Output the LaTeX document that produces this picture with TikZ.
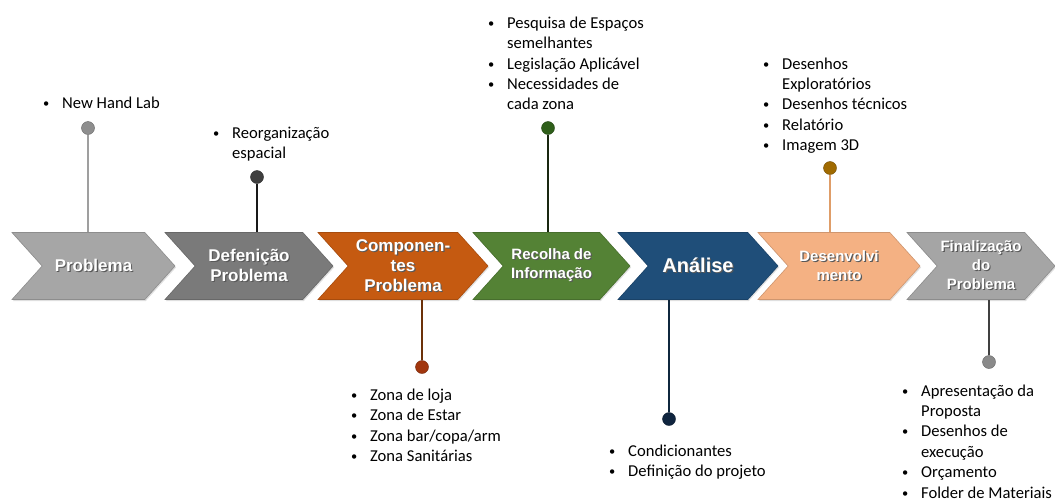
\documentclass[tikz,border=0pt]{standalone}
\usepackage{fontspec}
\usepackage{graphicx}
\setmainfont{Carlito}
\newfontfamily\chevfont{Liberation Sans}
\usetikzlibrary{shapes.symbols, positioning, calc, shadows}

\definecolor{cinza}{HTML}{A6A6A6}
\definecolor{cinzaesc}{HTML}{7A7A7A}
\definecolor{laranja}{HTML}{C55A11}
\definecolor{verde}{HTML}{548235}
\definecolor{azul}{HTML}{1F4E79}
\definecolor{salmao}{HTML}{F4B183}
\definecolor{cinzafim}{HTML}{A5A5A5}
% pontos
\definecolor{ponto1}{HTML}{8E8E8E}
\definecolor{ponto2}{HTML}{3F3F3F}
\definecolor{ponto3}{HTML}{A1360E}
\definecolor{ponto4}{HTML}{2F5F1A}
\definecolor{ponto5}{HTML}{10253F}
\definecolor{ponto6}{HTML}{A06A00}
\definecolor{ponto7}{HTML}{8A8A8A}

\newcommand{\lista}[1]{\begin{tabular}[t]{@{}l@{}l@{}}#1\end{tabular}}
\newcommand{\bl}{\makebox[19pt][l]{\raisebox{1pt}{\scalebox{0.75}{\textbullet}}}}
% texto com sombra
\newcommand{\sombra}[1]{\makebox[0pt][l]{\hspace{1.2pt}\raisebox{-1.2pt}{\color{black!65}#1}}#1}

\begin{document}
\begin{tikzpicture}[x=1pt, y=-1pt,
    chev/.style={signal, signal from=west, signal to=east, signal pointer angle=96,
      minimum height=67pt, inner sep=0pt, align=center, text=white,
      font=\chevfont\bfseries\fontsize{17}{20}\selectfont,
      fill=#1, draw=#1!85!black, line width=0.6pt,
      drop shadow={opacity=0.25, shadow xshift=1pt, shadow yshift=-1.5pt}},
    dot/.style={circle, inner sep=0pt, minimum size=13pt, fill=#1, draw=#1!70!black},
    stem/.style={line width=1.5pt, draw=#1},
    list/.style={anchor=base west, inner sep=0pt, font=\fontsize{16.6}{20.4}\selectfont}
]
    \useasboundingbox (0,0) rectangle (1055,501);

    % chevrons
    \node [chev=cinza, minimum width=163pt] (prob) at (93.5,266) {\sombra{Problema}};
    \node [chev=cinzaesc, minimum width=168pt] (defn) at (249,266) {\sombra{Defenição}\\\sombra{Problema}};
    \node [chev=laranja, minimum width=170pt] (comp) at (403,266) {\sombra{Componen-}\\\sombra{tes}\\\sombra{Problema}};
    \node [chev=verde, minimum width=157pt, font=\chevfont\bfseries\fontsize{15}{19}\selectfont] (reco) at (551.5,266) {\sombra{Recolha de}\\\sombra{Informação}};
    \node [chev=azul, minimum width=160pt, font=\chevfont\bfseries\fontsize{20}{22}\selectfont] (anal) at (698,266) {\sombra{Análise}};
    \node [chev=salmao, minimum width=162pt, font=\chevfont\bfseries\fontsize{15}{19}\selectfont] (dese) at (839,266) {\sombra{Desenvolvi}\\\sombra{mento}};
    \node [chev=cinzafim, minimum width=148pt, font=\chevfont\bfseries\fontsize{15}{19}\selectfont] (fina) at (981,266) {\sombra{Finalização}\\\sombra{do}\\\sombra{Problema}};

    % dots
    \node [dot=ponto1] (d1) at (88,128) {};
    \node [dot=ponto2] (d2) at (257,177) {};
    \node [dot=ponto3] (d3) at (422,367) {};
    \node [dot=ponto4] (d4) at (548,128) {};
    \node [dot=ponto5] (d5) at (669,419) {};
    \node [dot=ponto6] (d6) at (830,168) {};
    \node [dot=ponto7] (d7) at (989,362) {};

    % stems
    \draw [stem=gray!75] (d1) -- (d1 |- prob.north);
    \draw [stem=black!90] (d2) -- (d2 |- defn.north);
    \draw [stem=laranja!55!black] (d3) -- (d3 |- comp.south);
    \draw [stem=verde!30!black] (d4) -- (d4 |- reco.north);
    \draw [stem=azul!50!black] (d5) -- (d5 |- anal.south);
    \draw [stem=salmao!60!brown] (d6) -- (d6 |- dese.north);
    \draw [stem=black!75] (d7) -- (d7 |- fina.south);

    % lists
    \node [list] (l1) at (43,108.3) {\lista{\bl & New Hand Lab}};
    \node [list] (l2) at (213,138) {\lista{\bl & Reorganização\\ & espacial}};
    \node [list] (l3) at (488,28.3) {\lista{\bl & Pesquisa de Espaços\\ & semelhantes\\ \bl & Legislação Aplicável\\ \bl & Necessidades de\\ & cada zona}};
    \node [list] (l4) at (763,69) {\lista{\bl & Desenhos\\ & Exploratórios\\ \bl & Desenhos técnicos\\ \bl & Relatório\\ \bl & Imagem 3D}};
    \node [list] (l5) at (351,400.3) {\lista{\bl & Zona de loja\\ \bl & Zona de Estar\\ \bl & Zona bar/copa/arm\\ \bl & Zona Sanitárias}};
    \node [list] (l6) at (609,456.3) {\lista{\bl & Condicionantes\\ \bl & Definição do projeto}};
    \node [list] (l7) at (902,396) {\lista{\bl & Apresentação da\\ & Proposta\\ \bl & Desenhos de\\ & execução\\ \bl & Orçamento\\ \bl & Folder de Materiais}};
\end{tikzpicture}
\end{document}
